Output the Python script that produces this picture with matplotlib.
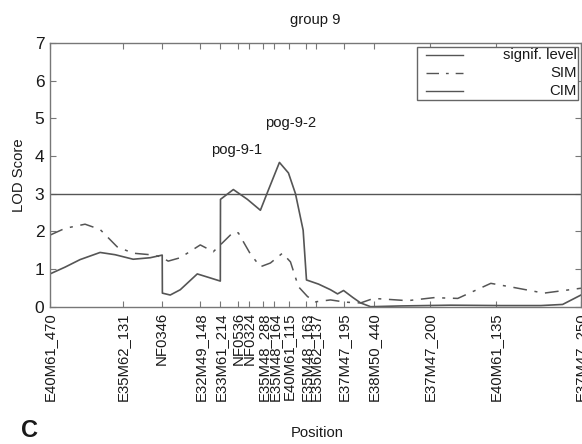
import matplotlib
matplotlib.use("Agg")
import matplotlib.pyplot as plt
from matplotlib.patches import Rectangle
from matplotlib.lines import Line2D

plt.rcParams['font.family'] = ['Liberation Sans', 'DejaVu Sans']

# Marker positions (cM) and names
marker_pos = [0, 21.9, 33.6, 45.0, 51.0, 56.4, 59.7, 63.9, 67.2, 71.6, 76.8, 79.5,
              87.9, 96.9, 113.7, 133.5, 159.0]
marker_names = ["E40M61_470", "E35M62_131", "NF0346", "E32M49_148", "E33M61_214",
                "NF0536", "NF0324", "E35M48_288", "E35M48_164", "E40M61_115",
                "E35M48_163", "E35M62_137", "E37M47_195", "E38M50_440",
                "E37M47_200", "E40M61_135", "E37M47_250"]

# CIM curve
cim_x = [0, 4.5, 9, 15, 19.5, 24.9, 30, 33.6, 33.65, 36, 39, 44.1, 47.4, 51.0, 51.05,
         54.9, 59.1, 63.0, 65.4, 68.7, 71.4, 73.5, 75.8, 76.8, 80.4, 84.0, 86.1, 87.9,
         90.6, 93.0, 96.0, 105, 120, 135, 147, 153.5, 159]
cim_y = [0.87, 1.05, 1.25, 1.44, 1.38, 1.26, 1.30, 1.37, 0.36, 0.31, 0.45, 0.87, 0.78,
         0.68, 2.85, 3.11, 2.85, 2.56, 3.10, 3.83, 3.55, 3.00, 2.03, 0.71, 0.60, 0.45,
         0.34, 0.43, 0.25, 0.10, 0.00, 0.02, 0.04, 0.03, 0.03, 0.06, 0.31]

# SIM curve
sim_x = [0, 4.5, 10.5, 15, 20.1, 24.9, 30, 33, 35.4, 39, 45, 48.9, 51, 54.9, 56.4,
         57.6, 60, 63, 66, 69.6, 72, 74.4, 77.1, 79.5, 84, 88.5, 93, 96.9, 107.1,
         114.9, 122.1, 132, 138.9, 147.9, 159]
sim_y = [1.90, 2.08, 2.19, 2.05, 1.59, 1.42, 1.38, 1.33, 1.21, 1.30, 1.64, 1.46, 1.64,
         1.98, 1.96, 1.77, 1.40, 1.06, 1.16, 1.42, 1.19, 0.53, 0.27, 0.13, 0.18, 0.12,
         0.10, 0.22, 0.16, 0.24, 0.22, 0.62, 0.51, 0.36, 0.49]

signif_level = 3.0
qtl_names = ["pog-9-1", "pog-9-2"]
qtl_x = [55.8, 72.0]
qtl_y = [4.16, 4.87]

line_col = '#555555'
txt_col = '#1a1a1a'
fs = 10.7

fig = plt.figure(figsize=(5.82, 4.44), dpi=100)
ax = fig.add_axes([50 / 582, 1 - 306.7 / 444, 531 / 582, (306.7 - 43) / 444])

ax.axhline(signif_level, color=line_col, lw=1.0)
ax.plot(sim_x, sim_y, color=line_col, lw=1.1, linestyle=(0, (9, 5, 2, 5)))
ax.plot(cim_x, cim_y, color=line_col, lw=1.2)

ax.set_xlim(0, 159)
ax.set_ylim(0, 7)
ax.set_xticks(marker_pos)
ax.set_xticklabels(marker_names, rotation=90, fontsize=fs, color=txt_col)
ax.set_yticks(range(0, 8))
ax.tick_params(axis='y', labelsize=12.5, labelcolor=txt_col)
ax.tick_params(direction='in', length=4, width=0.8, color='#777777',
               top=True, right=True, pad=4)
for s in ax.spines.values():
    s.set_color('#777777')
    s.set_linewidth(1.0)

ax.set_ylabel("LOD Score", fontsize=fs, color=txt_col, labelpad=6)
ax.set_title("group 9", fontsize=fs, color=txt_col, pad=14)
fig.text(317 / 582, 1 - 433 / 444, "Position", fontsize=fs, color=txt_col,
         ha='center', va='center')
fig.text(30 / 582, 1 - 430 / 444, "C", fontsize=17, fontweight='bold',
         color=txt_col, ha='center', va='center')

for name, x, y in zip(qtl_names, qtl_x, qtl_y):
    ax.text(x, y, name, fontsize=fs, color=txt_col, ha='center', va='center')

# Legend (gnuplot style: samples left, labels right-aligned)
ax.add_patch(Rectangle((0.692, 0.784), 0.302, 0.201, transform=ax.transAxes,
                       fill=True, facecolor='white', edgecolor='#666666', lw=1.0,
                       zorder=5))
leg_labels = ["signif. level", "SIM", "CIM"]
leg_styles = ['-', (0, (9, 5, 2, 5)), '-']
leg_rows = [0.955, 0.887, 0.818]
for lab, st, yy in zip(leg_labels, leg_styles, leg_rows):
    ax.add_line(Line2D([0.7075, 0.7787], [yy, yy], transform=ax.transAxes,
                       color=line_col, lw=1.0, linestyle=st, zorder=6))
    ax.text(0.9925, yy, lab, transform=ax.transAxes, ha='right', va='center',
            fontsize=fs, color=txt_col, zorder=6)

fig.savefig("out.png", dpi=100)
